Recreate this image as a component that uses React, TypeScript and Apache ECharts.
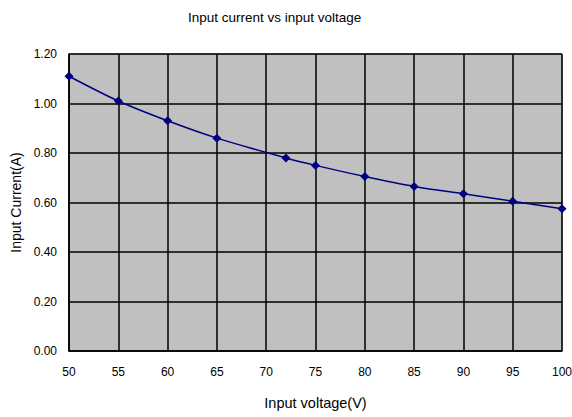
import React, { useEffect, useRef } from "react";
import * as echarts from "echarts";

const voltages = [50, 55, 60, 65, 72, 75, 80, 85, 90, 95, 100];
const currents = [1.11, 1.01, 0.93, 0.86, 0.78, 0.75, 0.705, 0.665, 0.635, 0.605, 0.575];
const titleText = "Input current vs input voltage";
const xName = "Input voltage(V)";
const yName = "Input Current(A)";

const font = "'Liberation Sans', Arial, sans-serif";

export default function App() {
  const ref = useRef<HTMLDivElement>(null);
  useEffect(() => {
    document.body.style.margin = "0";
    if (!ref.current) return;
    const chart = echarts.init(ref.current, undefined, { renderer: "svg" });
    chart.setOption({
      animation: false,
      backgroundColor: "#ffffff",
      title: {
        text: titleText,
        left: 183,
        top: 5,
        textStyle: { fontFamily: font, fontSize: 13.5, fontWeight: "normal", color: "#000" },
      },
      grid: {
        left: 69, right: 10, top: 54, bottom: 66,
        backgroundColor: "#c0c0c0", show: true, borderColor: "#808080", borderWidth: 1,
        outerBoundsMode: "none",
      },
      xAxis: {
        type: "value",
        min: 50,
        max: 100,
        interval: 5,
        name: xName,
        nameLocation: "middle",
        nameGap: 44,
        nameTextStyle: { fontFamily: font, fontSize: 14.5, color: "#000" },
        axisLine: { lineStyle: { color: "#000", width: 1.5 } },
        axisTick: { show: false },
        axisLabel: { fontFamily: font, fontSize: 12, color: "#000", margin: 15, hideOverlap: false },
        splitLine: { show: true, lineStyle: { color: "#000", width: 1.5 } },
      },
      yAxis: {
        type: "value",
        min: 0,
        max: 1.2,
        interval: 0.2,
        name: yName,
        nameLocation: "middle",
        nameGap: 45,
        nameTextStyle: { fontFamily: font, fontSize: 14, color: "#000" },
        axisLine: { show: true, lineStyle: { color: "#000", width: 1.5 } },
        axisTick: { show: false },
        axisLabel: { fontFamily: font, fontSize: 12, color: "#000", margin: 12, formatter: (v: number) => v.toFixed(2) },
        splitLine: { show: true, lineStyle: { color: "#000", width: 1.5 } },
      },
      series: [
        {
          type: "line",
          data: voltages.map((v, i) => [v, currents[i]]),
          smooth: 0.3,
          symbol: "diamond",
          symbolSize: 9,
          lineStyle: { color: "#000080", width: 1.5 },
          itemStyle: { color: "#000080" },
        },
      ],
    });
    return () => chart.dispose();
  }, []);
  return <div ref={ref} style={{ width: 572, height: 417 }} />;
}
